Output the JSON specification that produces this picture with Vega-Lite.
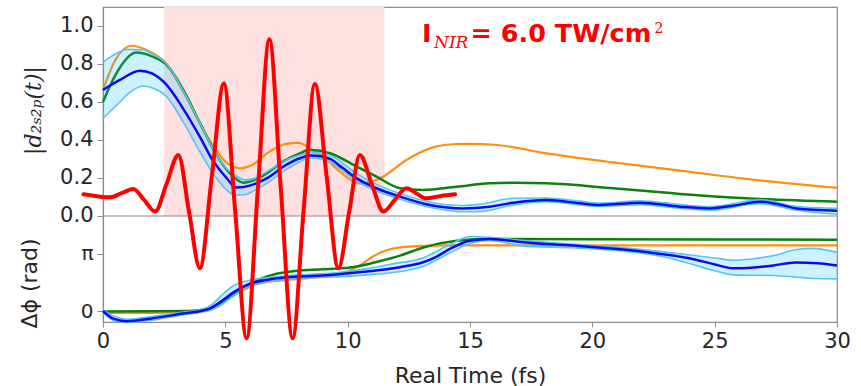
{
  "$schema": "https://vega.github.io/schema/vega-lite/v6.json",
  "width": 734,
  "height": 315,
  "autosize": {"type": "none"},
  "padding": {"left": 103, "top": 7, "right": 24, "bottom": 64},
  "background": "white",
  "config": {
    "view": {"stroke": "#8c8c8c", "strokeWidth": 1.2},
    "axis": {"grid": false, "labelFont": "DejaVu Sans", "labelFontSize": 21, "labelColor": "#262626", "tickColor": "#8c8c8c", "domainColor": "#8c8c8c", "domainWidth": 1.2, "titleFont": "DejaVu Sans", "titleFontSize": 22, "titleFontWeight": "normal", "titleColor": "#262626", "tickSize": 6, "labelPadding": 4}
  },
  "datasets": {
    "top_orange": [
      {"t":0,"v":0.663},{"t":0.5,"v":0.82},{"t":1.17,"v":0.896},{"t":1.8,"v":0.872},{"t":2.6,"v":0.8},{"t":3.3,"v":0.65},{"t":3.96,"v":0.49},{"t":4.6,"v":0.35},{"t":5.1,"v":0.275},{"t":5.6,"v":0.251},{"t":6.1,"v":0.268},{"t":6.7,"v":0.33},{"t":7.5,"v":0.38},{"t":8.0,"v":0.385},{"t":8.46,"v":0.356},{"t":9.0,"v":0.312},{"t":9.69,"v":0.233},{"t":10.45,"v":0.172},{"t":11.0,"v":0.182},{"t":11.45,"v":0.207},{"t":12.4,"v":0.295},{"t":13.36,"v":0.356},{"t":14.45,"v":0.379},{"t":15.1,"v":0.38},{"t":16.0,"v":0.375},{"t":18.13,"v":0.33},{"t":20.85,"v":0.282},{"t":23.58,"v":0.239},{"t":26.3,"v":0.195},{"t":30,"v":0.148}
    ],
    "top_green": [
      {"t":0,"v":0.6},{"t":0.5,"v":0.74},{"t":1.37,"v":0.86},{"t":2.0,"v":0.84},{"t":2.6,"v":0.795},{"t":3.3,"v":0.66},{"t":3.96,"v":0.49},{"t":4.6,"v":0.33},{"t":5.33,"v":0.207},{"t":5.73,"v":0.175},{"t":6.2,"v":0.19},{"t":6.69,"v":0.224},{"t":7.4,"v":0.29},{"t":8.05,"v":0.33},{"t":8.4,"v":0.347},{"t":8.8,"v":0.345},{"t":9.28,"v":0.33},{"t":10.37,"v":0.26},{"t":11.18,"v":0.207},{"t":12.14,"v":0.146},{"t":13.09,"v":0.137},{"t":14.45,"v":0.154},{"t":15.8,"v":0.172},{"t":16.8,"v":0.175},{"t":18.13,"v":0.172},{"t":20.85,"v":0.146},{"t":23.58,"v":0.116},{"t":26.3,"v":0.093},{"t":30,"v":0.075}
    ],
    "top_blue": [
      {"t":0,"v":0.663},{"t":0.69,"v":0.716},{"t":1.51,"v":0.765},{"t":2.0,"v":0.75},{"t":2.6,"v":0.69},{"t":3.3,"v":0.56},{"t":3.96,"v":0.417},{"t":4.5,"v":0.29},{"t":5.05,"v":0.2},{"t":5.45,"v":0.15},{"t":6.0,"v":0.16},{"t":6.69,"v":0.198},{"t":7.5,"v":0.27},{"t":8.05,"v":0.304},{"t":8.5,"v":0.318},{"t":8.9,"v":0.315},{"t":9.28,"v":0.3},{"t":9.8,"v":0.252},{"t":10.37,"v":0.198},{"t":11.18,"v":0.146},{"t":12.14,"v":0.102},{"t":13.36,"v":0.058},{"t":14.72,"v":0.04},{"t":15.8,"v":0.049},{"t":16.77,"v":0.07},{"t":18.13,"v":0.084},{"t":19.49,"v":0.067},{"t":20.3,"v":0.058},{"t":21.95,"v":0.07},{"t":23.58,"v":0.049},{"t":24.8,"v":0.04},{"t":25.8,"v":0.055},{"t":26.85,"v":0.075},{"t":27.6,"v":0.062},{"t":28.35,"v":0.04},{"t":30,"v":0.028}
    ],
    "top_band": [
      {"t":0,"lo":0.514,"hi":0.81},{"t":0.69,"lo":0.6,"hi":0.865},{"t":1.0,"lo":0.64,"hi":0.877},{"t":1.65,"lo":0.684,"hi":0.875},{"t":2.0,"lo":0.675,"hi":0.855},{"t":2.6,"lo":0.628,"hi":0.8},{"t":3.3,"lo":0.49,"hi":0.655},{"t":3.96,"lo":0.338,"hi":0.49},{"t":4.6,"lo":0.205,"hi":0.33},{"t":5.05,"lo":0.137,"hi":0.25},{"t":5.4,"lo":0.11,"hi":0.215},{"t":5.8,"lo":0.112,"hi":0.19},{"t":6.2,"lo":0.135,"hi":0.198},{"t":6.69,"lo":0.172,"hi":0.233},{"t":7.5,"lo":0.245,"hi":0.295},{"t":8.05,"lo":0.286,"hi":0.321},{"t":8.5,"lo":0.305,"hi":0.335},{"t":9.3,"lo":0.282,"hi":0.318},{"t":10.4,"lo":0.18,"hi":0.22},{"t":11.2,"lo":0.13,"hi":0.165},{"t":12.14,"lo":0.088,"hi":0.118},{"t":13.4,"lo":0.045,"hi":0.072},{"t":14.7,"lo":0.022,"hi":0.055},{"t":15.4,"lo":0.023,"hi":0.062},{"t":16.77,"lo":0.058,"hi":0.093},{"t":18.13,"lo":0.075,"hi":0.095},{"t":19.49,"lo":0.058,"hi":0.078},{"t":20.3,"lo":0.05,"hi":0.068},{"t":21.95,"lo":0.06,"hi":0.08},{"t":23.58,"lo":0.04,"hi":0.06},{"t":24.8,"lo":0.03,"hi":0.05},{"t":26.85,"lo":0.065,"hi":0.085},{"t":28.35,"lo":0.03,"hi":0.05},{"t":30,"lo":0.009,"hi":0.04}
    ],
    "bot_orange": [
      {"t":0,"p":-0.1},{"t":2,"p":-0.1},{"t":3.5,"p":-0.02},{"t":4.0,"p":0.06},{"t":4.5,"p":0.22},{"t":5.0,"p":0.55},{"t":5.4,"p":0.88},{"t":5.73,"p":1.13},{"t":6.2,"p":1.42},{"t":6.69,"p":1.58},{"t":7.5,"p":1.7},{"t":8.05,"p":1.76},{"t":9.0,"p":1.9},{"t":9.41,"p":1.98},{"t":9.96,"p":2.15},{"t":10.5,"p":2.5},{"t":11.05,"p":3.0},{"t":11.5,"p":3.28},{"t":12.14,"p":3.48},{"t":13.09,"p":3.57},{"t":14.0,"p":3.59},{"t":20,"p":3.59},{"t":30,"p":3.59}
    ],
    "bot_green": [
      {"t":0,"p":-0.03},{"t":3.5,"p":0.0},{"t":4.0,"p":0.06},{"t":4.37,"p":0.16},{"t":4.7,"p":0.37},{"t":5.05,"p":0.67},{"t":5.4,"p":0.97},{"t":5.73,"p":1.22},{"t":6.1,"p":1.5},{"t":6.42,"p":1.74},{"t":7.1,"p":2.04},{"t":8.05,"p":2.22},{"t":9.41,"p":2.31},{"t":10.2,"p":2.4},{"t":10.77,"p":2.55},{"t":11.3,"p":2.72},{"t":12.14,"p":3.03},{"t":13.09,"p":3.48},{"t":14.45,"p":3.85},{"t":15.8,"p":3.95},{"t":20,"p":3.93},{"t":30,"p":3.9}
    ],
    "bot_blue": [
      {"t":0,"p":0},{"t":0.42,"p":-0.42},{"t":0.96,"p":-0.56},{"t":1.92,"p":-0.42},{"t":3.28,"p":-0.14},{"t":4.0,"p":0.0},{"t":4.37,"p":0.13},{"t":4.8,"p":0.5},{"t":5.33,"p":1.03},{"t":6.0,"p":1.49},{"t":6.96,"p":1.76},{"t":8.05,"p":1.89},{"t":9.41,"p":1.98},{"t":10.77,"p":2.16},{"t":11.73,"p":2.31},{"t":12.14,"p":2.4},{"t":13.09,"p":2.67},{"t":13.6,"p":2.95},{"t":14.18,"p":3.4},{"t":15.0,"p":3.85},{"t":15.8,"p":3.94},{"t":17.18,"p":3.76},{"t":19.22,"p":3.58},{"t":20.0,"p":3.5},{"t":21.3,"p":3.36},{"t":22.8,"p":3.12},{"t":24.1,"p":2.85},{"t":25.0,"p":2.55},{"t":25.75,"p":2.34},{"t":26.5,"p":2.37},{"t":27.4,"p":2.49},{"t":28.3,"p":2.66},{"t":29.2,"p":2.62},{"t":30,"p":2.49}
    ],
    "bot_band": [
      {"t":0,"lo":-0.08,"hi":0.05},{"t":0.5,"lo":-0.55,"hi":-0.3},{"t":1.0,"lo":-0.62,"hi":-0.45},{"t":2.0,"lo":-0.5,"hi":-0.3},{"t":3.3,"lo":-0.2,"hi":-0.06},{"t":4.0,"lo":-0.06,"hi":0.08},{"t":4.4,"lo":0.04,"hi":0.3},{"t":4.8,"lo":0.3,"hi":0.8},{"t":5.33,"lo":0.82,"hi":1.38},{"t":6.0,"lo":1.38,"hi":1.68},{"t":7.0,"lo":1.66,"hi":1.86},{"t":8.05,"lo":1.8,"hi":1.98},{"t":9.4,"lo":1.86,"hi":2.08},{"t":10.8,"lo":1.98,"hi":2.32},{"t":11.7,"lo":2.08,"hi":2.55},{"t":13.1,"lo":2.45,"hi":2.92},{"t":14.2,"lo":3.2,"hi":3.65},{"t":15.0,"lo":3.7,"hi":4.08},{"t":15.8,"lo":3.86,"hi":4.04},{"t":17.2,"lo":3.55,"hi":3.85},{"t":19.2,"lo":3.46,"hi":3.66},{"t":21.3,"lo":3.28,"hi":3.46},{"t":22.8,"lo":3.0,"hi":3.25},{"t":24.1,"lo":2.55,"hi":3.05},{"t":25.0,"lo":2.2,"hi":2.9},{"t":25.75,"lo":1.98,"hi":2.78},{"t":26.5,"lo":1.96,"hi":2.85},{"t":27.4,"lo":1.94,"hi":3.03},{"t":28.3,"lo":1.86,"hi":3.35},{"t":29.0,"lo":1.78,"hi":3.43},{"t":30,"lo":1.76,"hi":3.21}
    ],
    "pulse": [
      {"t":-0.8,"v":0.114},{"t":-0.3,"v":0.105},{"t":0.29,"v":0.098},{"t":0.76,"v":0.12},{"t":1.24,"v":0.142},{"t":1.69,"v":0.083},{"t":2.13,"v":0.023},{"t":2.6,"v":0.17},{"t":3.08,"v":0.321},{"t":3.52,"v":0.02},{"t":3.96,"v":-0.275},{"t":4.45,"v":0.21},{"t":4.94,"v":0.698},{"t":5.4,"v":0.03},{"t":5.87,"v":-0.644},{"t":6.33,"v":0.14},{"t":6.8,"v":0.93},{"t":7.27,"v":0.14},{"t":7.75,"v":-0.644},{"t":8.2,"v":0.03},{"t":8.66,"v":0.695},{"t":9.14,"v":0.21},{"t":9.62,"v":-0.275},{"t":10.06,"v":0.02},{"t":10.5,"v":0.321},{"t":10.98,"v":0.17},{"t":11.46,"v":0.023},{"t":11.93,"v":0.085},{"t":12.4,"v":0.146},{"t":12.8,"v":0.12},{"t":13.2,"v":0.093},{"t":13.8,"v":0.105},{"t":14.39,"v":0.114}
    ]
  },
  "resolve": {"scale": {"y": "independent"}, "axis": {"y": "independent"}},
  "layer": [
    {
      "layer": [
        {
          "data": {"values": [{"start": 2.5, "end": 11.5}]},
          "mark": {"type": "rect", "color": "#ffe0e0"},
          "encoding": {
            "x": {"field": "start", "type": "quantitative", "scale": {"domain": [0, 30], "nice": false, "zero": false},
                  "axis": {"title": "Real Time (fs)", "values": [0, 5, 10, 15, 20, 25, 30], "labelFlush": false, "tickSize": 5, "labelPadding": 3, "titleX": 367, "titleY": 60, "titleBaseline": "alphabetic", "titleAlign": "center", "titleFontSize": 22}},
            "x2": {"field": "end"},
            "y": {"datum": 0, "type": "quantitative", "scale": {"domain": [-0.558, 1.1], "nice": false, "zero": false},
                  "axis": {"orient": "left", "title": "|d₂ₛ₂ₚ(t)|", "values": [0, 0.2, 0.4, 0.6, 0.8, 1.0], "format": ".1f", "titleFont": "DejaVu Serif", "titleFontStyle": "italic", "titleFontSize": 22, "titleX": -70, "titleY": 103, "titleAngle": -90, "titleAlign": "center", "titleBaseline": "middle"}},
            "y2": {"datum": 1.1}
          }
        },
        {
          "data": {"name": "top_orange"},
          "mark": {"type": "line", "color": "#ff8f10", "strokeWidth": 2.2, "interpolate": "monotone"},
          "encoding": {
            "x": {"field": "t", "type": "quantitative", "scale": {"domain": [0, 30], "nice": false, "zero": false}},
            "y": {"field": "v", "type": "quantitative", "scale": {"domain": [-0.558, 1.1], "nice": false, "zero": false}}
          }
        },
        {
          "data": {"name": "top_green"},
          "mark": {"type": "line", "color": "#0f800f", "strokeWidth": 2.5, "interpolate": "monotone"},
          "encoding": {
            "x": {"field": "t", "type": "quantitative", "scale": {"domain": [0, 30], "nice": false, "zero": false}},
            "y": {"field": "v", "type": "quantitative", "scale": {"domain": [-0.558, 1.1], "nice": false, "zero": false}}
          }
        },
        {
          "data": {"name": "top_band"},
          "mark": {"type": "area", "color": "#00bfff", "opacity": 0.2, "interpolate": "monotone"},
          "encoding": {
            "x": {"field": "t", "type": "quantitative", "scale": {"domain": [0, 30], "nice": false, "zero": false}},
            "y": {"field": "lo", "type": "quantitative", "scale": {"domain": [-0.558, 1.1], "nice": false, "zero": false}},
            "y2": {"field": "hi"}
          }
        },
        {
          "data": {"name": "top_band"},
          "mark": {"type": "line", "color": "#55c5f5", "strokeWidth": 1.6, "interpolate": "monotone"},
          "encoding": {
            "x": {"field": "t", "type": "quantitative", "scale": {"domain": [0, 30], "nice": false, "zero": false}},
            "y": {"field": "lo", "type": "quantitative", "scale": {"domain": [-0.558, 1.1], "nice": false, "zero": false}}
          }
        },
        {
          "data": {"name": "top_band"},
          "mark": {"type": "line", "color": "#55c5f5", "strokeWidth": 1.6, "interpolate": "monotone"},
          "encoding": {
            "x": {"field": "t", "type": "quantitative", "scale": {"domain": [0, 30], "nice": false, "zero": false}},
            "y": {"field": "hi", "type": "quantitative", "scale": {"domain": [-0.558, 1.1], "nice": false, "zero": false}}
          }
        },
        {
          "data": {"name": "top_blue"},
          "mark": {"type": "line", "color": "#0a0af5", "strokeWidth": 2.5, "interpolate": "monotone"},
          "encoding": {
            "x": {"field": "t", "type": "quantitative", "scale": {"domain": [0, 30], "nice": false, "zero": false}},
            "y": {"field": "v", "type": "quantitative", "scale": {"domain": [-0.558, 1.1], "nice": false, "zero": false}}
          }
        },
        {
          "data": {"values": [{"sep": 0}]},
          "mark": {"type": "rule", "color": "#8c8c8c", "strokeWidth": 1.2},
          "encoding": {
            "y": {"field": "sep", "type": "quantitative", "scale": {"domain": [-0.558, 1.1], "nice": false, "zero": false}}
          }
        }
      ]
    },
    {
      "layer": [
        {
          "data": {"name": "bot_orange"},
          "mark": {"type": "line", "color": "#ff8f10", "strokeWidth": 2.2, "interpolate": "monotone"},
          "encoding": {
            "x": {"field": "t", "type": "quantitative", "scale": {"domain": [0, 30], "nice": false, "zero": false}},
            "y": {"field": "p", "type": "quantitative", "scale": {"domain": [-0.602, 16.64], "nice": false, "zero": false},
                  "axis": {"orient": "left", "title": "Δϕ (rad)", "values": [0, 3.14159], "labelExpr": "datum.value < 1 ? '0' : 'π'", "domain": false, "labelFontSize": 20, "titleX": -74, "titleY": 276, "titleAngle": -90, "titleAlign": "center", "titleBaseline": "middle"}}
          }
        },
        {
          "data": {"name": "bot_green"},
          "mark": {"type": "line", "color": "#0f800f", "strokeWidth": 2.5, "interpolate": "monotone"},
          "encoding": {
            "x": {"field": "t", "type": "quantitative", "scale": {"domain": [0, 30], "nice": false, "zero": false}},
            "y": {"field": "p", "type": "quantitative", "scale": {"domain": [-0.602, 16.64], "nice": false, "zero": false}}
          }
        },
        {
          "data": {"name": "bot_band"},
          "mark": {"type": "area", "color": "#00bfff", "opacity": 0.2, "interpolate": "monotone"},
          "encoding": {
            "x": {"field": "t", "type": "quantitative", "scale": {"domain": [0, 30], "nice": false, "zero": false}},
            "y": {"field": "lo", "type": "quantitative", "scale": {"domain": [-0.602, 16.64], "nice": false, "zero": false}},
            "y2": {"field": "hi"}
          }
        },
        {
          "data": {"name": "bot_band"},
          "mark": {"type": "line", "color": "#55c5f5", "strokeWidth": 1.6, "interpolate": "monotone"},
          "encoding": {
            "x": {"field": "t", "type": "quantitative", "scale": {"domain": [0, 30], "nice": false, "zero": false}},
            "y": {"field": "lo", "type": "quantitative", "scale": {"domain": [-0.602, 16.64], "nice": false, "zero": false}}
          }
        },
        {
          "data": {"name": "bot_band"},
          "mark": {"type": "line", "color": "#55c5f5", "strokeWidth": 1.6, "interpolate": "monotone"},
          "encoding": {
            "x": {"field": "t", "type": "quantitative", "scale": {"domain": [0, 30], "nice": false, "zero": false}},
            "y": {"field": "hi", "type": "quantitative", "scale": {"domain": [-0.602, 16.64], "nice": false, "zero": false}}
          }
        },
        {
          "data": {"name": "bot_blue"},
          "mark": {"type": "line", "color": "#0a0af5", "strokeWidth": 2.5, "interpolate": "monotone"},
          "encoding": {
            "x": {"field": "t", "type": "quantitative", "scale": {"domain": [0, 30], "nice": false, "zero": false}},
            "y": {"field": "p", "type": "quantitative", "scale": {"domain": [-0.602, 16.64], "nice": false, "zero": false}}
          }
        }
      ]
    },
    {
      "layer": [
        {
          "data": {"name": "pulse"},
          "mark": {"type": "line", "color": "#ff0000", "strokeWidth": 4, "strokeCap": "round", "interpolate": "monotone"},
          "encoding": {
            "x": {"field": "t", "type": "quantitative", "scale": {"domain": [0, 30], "nice": false, "zero": false}},
            "y": {"field": "v", "type": "quantitative", "scale": {"domain": [-0.558, 1.1], "nice": false, "zero": false}, "axis": null}
          }
        },
        {
          "data": {"values": [{"t": 13.04, "v": 0.917, "label": "I"}]},
          "mark": {"type": "text", "color": "#ff0000", "font": "DejaVu Sans", "fontWeight": "bold", "fontSize": 25.5, "align": "left", "baseline": "alphabetic"},
          "encoding": {
            "x": {"field": "t", "type": "quantitative", "scale": {"domain": [0, 30], "nice": false, "zero": false}},
            "y": {"field": "v", "type": "quantitative", "scale": {"domain": [-0.558, 1.1], "nice": false, "zero": false}, "axis": null},
            "text": {"field": "label"}
          }
        },
        {
          "data": {"values": [{"t": 13.53, "v": 0.883, "label": "NIR"}]},
          "mark": {"type": "text", "color": "#ff0000", "font": "DejaVu Serif", "fontStyle": "italic", "fontSize": 17, "align": "left", "baseline": "alphabetic"},
          "encoding": {
            "x": {"field": "t", "type": "quantitative", "scale": {"domain": [0, 30], "nice": false, "zero": false}},
            "y": {"field": "v", "type": "quantitative", "scale": {"domain": [-0.558, 1.1], "nice": false, "zero": false}, "axis": null},
            "text": {"field": "label"}
          }
        },
        {
          "data": {"values": [{"t": 15.02, "v": 0.917, "label": "= 6.0 TW/cm"}]},
          "mark": {"type": "text", "color": "#ff0000", "font": "DejaVu Sans", "fontWeight": "bold", "fontSize": 25.5, "align": "left", "baseline": "alphabetic"},
          "encoding": {
            "x": {"field": "t", "type": "quantitative", "scale": {"domain": [0, 30], "nice": false, "zero": false}},
            "y": {"field": "v", "type": "quantitative", "scale": {"domain": [-0.558, 1.1], "nice": false, "zero": false}, "axis": null},
            "text": {"field": "label"}
          }
        },
        {
          "data": {"values": [{"t": 22.54, "v": 0.962, "label": "2"}]},
          "mark": {"type": "text", "color": "#ff0000", "font": "DejaVu Serif", "fontSize": 14, "align": "left", "baseline": "alphabetic"},
          "encoding": {
            "x": {"field": "t", "type": "quantitative", "scale": {"domain": [0, 30], "nice": false, "zero": false}},
            "y": {"field": "v", "type": "quantitative", "scale": {"domain": [-0.558, 1.1], "nice": false, "zero": false}, "axis": null},
            "text": {"field": "label"}
          }
        }
      ]
    }
  ]
}
